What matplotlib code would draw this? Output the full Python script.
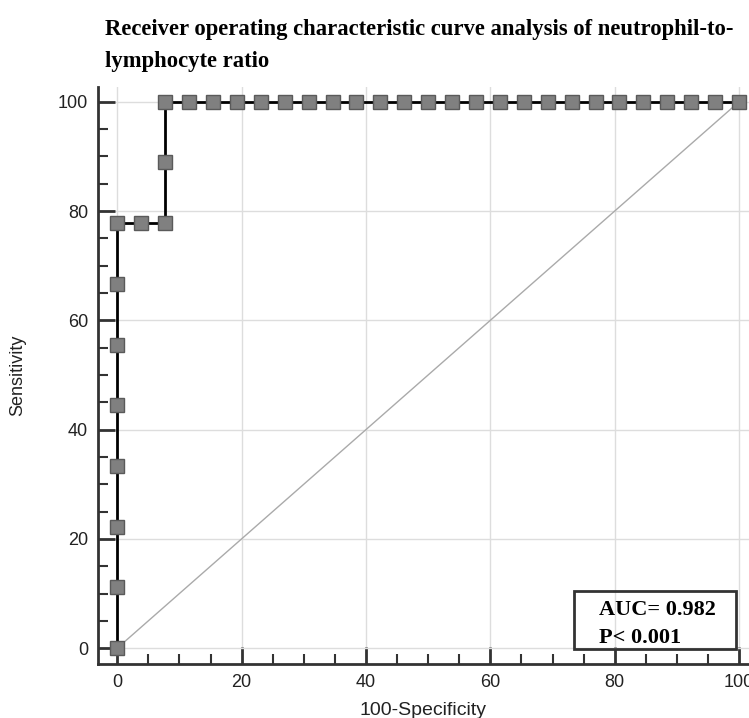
import matplotlib
matplotlib.use("Agg")
import matplotlib.pyplot as plt
from matplotlib.patches import Rectangle
from matplotlib.ticker import MultipleLocator

# ROC points (100-Specificity, Sensitivity)
fpr = [0, 0, 0, 0, 0, 0, 0, 0, 3.85, 7.69, 7.69, 7.69,
       11.54, 15.38, 19.23, 23.08, 26.92, 30.77, 34.62, 38.46, 42.31,
       46.15, 50.0, 53.85, 57.69, 61.54, 65.38, 69.23, 73.08, 76.92,
       80.77, 84.62, 88.46, 92.31, 96.15, 100.0]
tpr = [0, 11.11, 22.22, 33.33, 44.44, 55.56, 66.67, 77.78, 77.78, 77.78,
       88.89, 100, 100, 100, 100, 100, 100, 100, 100, 100, 100,
       100, 100, 100, 100, 100, 100, 100, 100, 100,
       100, 100, 100, 100, 100, 100]
diag = [0, 100]
title = "Receiver operating characteristic curve analysis of neutrophil-to-\nlymphocyte ratio"
auc_line = "AUC= 0.982"
p_line = "P< 0.001"

fig = plt.figure(figsize=(7.49, 7.18), dpi=100)
ax = fig.add_axes([0.1308, 0.0752, 0.8692, 0.8036])

ax.grid(True, which="major", color="#dddddd", linewidth=1)
ax.set_axisbelow(True)
ax.plot(diag, diag, color="#aaaaaa", linewidth=1, zorder=2)
ax.plot(fpr, tpr, color="black", linewidth=2,
        marker="s", markersize=9.5, markerfacecolor="#808080",
        markeredgecolor="#5a5a5a", markeredgewidth=1, zorder=3)

ax.set_xlim(-3.1, 101.6)
ax.set_ylim(-2.9, 102.7)
ax.xaxis.set_major_locator(MultipleLocator(20))
ax.yaxis.set_major_locator(MultipleLocator(20))
ax.xaxis.set_minor_locator(MultipleLocator(5))
ax.yaxis.set_minor_locator(MultipleLocator(5))
ax.tick_params(which="major", direction="in", length=12, width=2, color="#333333",
               labelsize=13, labelcolor="#222222", pad=7)
ax.tick_params(which="minor", direction="in", length=7, width=1.5, color="#333333")
for s in ["top", "right"]:
    ax.spines[s].set_visible(False)
for s in ["left", "bottom"]:
    ax.spines[s].set_linewidth(2)
    ax.spines[s].set_color("#333333")
for lab in ax.get_xticklabels() + ax.get_yticklabels():
    lab.set_family("Liberation Sans")

ax.set_xlabel("100-Specificity", fontsize=14, family="Liberation Sans", color="#222222")
ax.set_ylabel("Sensitivity", fontsize=13, family="Liberation Sans", color="#222222")
ax.xaxis.label.set_va("center")
ax.yaxis.label.set_va("center")
ax.xaxis.set_label_coords(0.50, -0.080)
ax.yaxis.set_label_coords(-0.123, 0.5)

fig.text(0.140, 0.974, title, ha="left", va="top", fontsize=16.3,
         family="Liberation Serif", fontweight="bold", linespacing=1.72)

ax.add_patch(Rectangle((73.4, -0.2), 26.1, 10.6, fill=False, edgecolor="#333333",
                       linewidth=2, zorder=4))
ax.text(77.4, 6.0, auc_line, ha="left", va="baseline", fontsize=16,
        family="Liberation Serif", fontweight="bold", zorder=5)
ax.text(77.4, 0.9, p_line, ha="left", va="baseline", fontsize=16,
        family="Liberation Serif", fontweight="bold", zorder=5)

fig.savefig("out.png", dpi=100)
